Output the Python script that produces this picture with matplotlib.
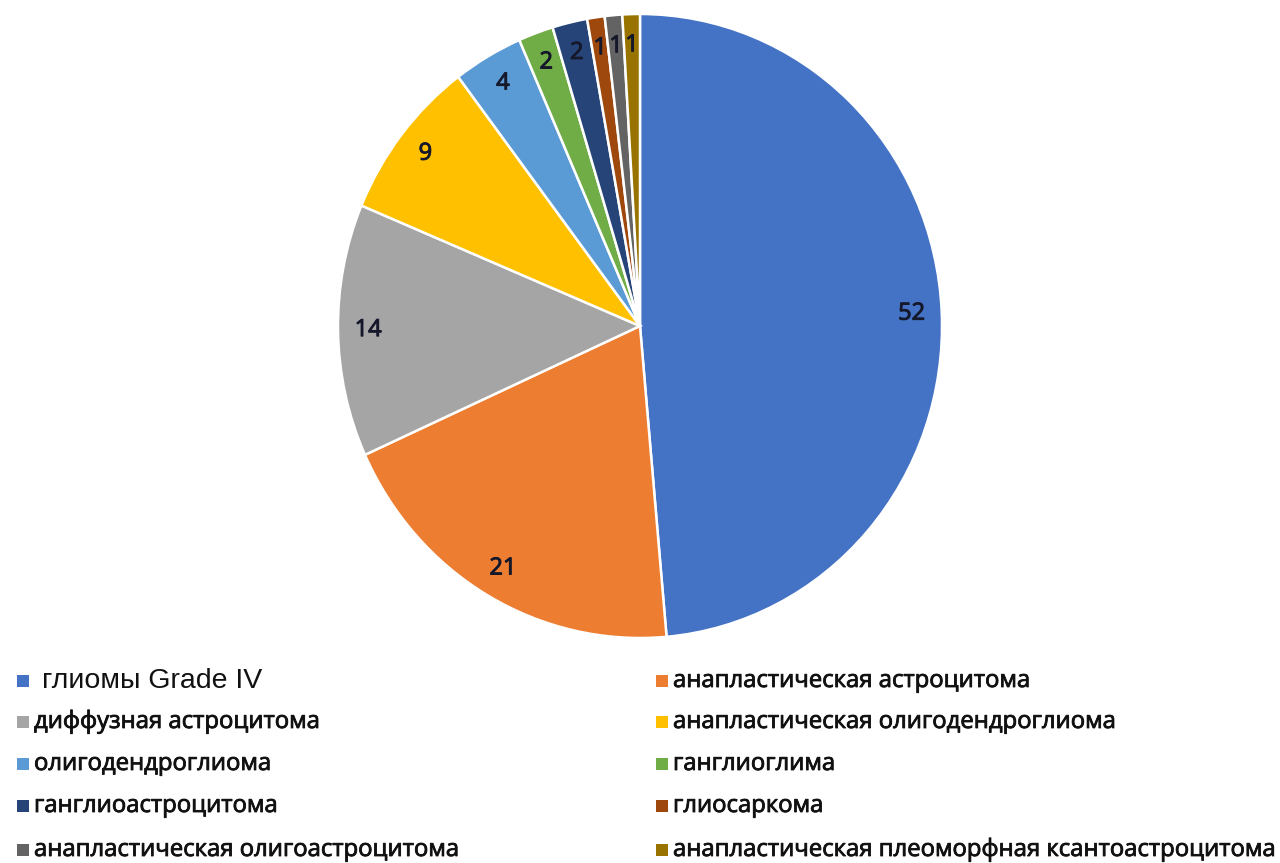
import matplotlib
matplotlib.use('Agg')
import matplotlib.pyplot as plt
import matplotlib.patheffects as pe
from matplotlib.patches import Rectangle

# Tumour types and case counts
categories = [
    'глиомы Grade IV',
    'анапластическая астроцитома',
    'диффузная астроцитома',
    'анапластическая олигодендроглиома',
    'олигодендроглиома',
    'ганглиоглима',
    'ганглиоастроцитома',
    'глиосаркома',
    'анапластическая олигоастроцитома',
    'анапластическая плеоморфная ксантоастроцитома',
]
counts = [52, 21, 14, 9, 4, 2, 2, 1, 1, 1]
colors = ['#4472C4', '#ED7D31', '#A5A5A5', '#FFC000', '#5B9BD5',
          '#70AD47', '#264478', '#9E480E', '#636363', '#997300']

total = sum(counts)
heavy = [pe.withStroke(linewidth=0.7, foreground='#15182a')]

fig = plt.figure(figsize=(12.8, 8.63), dpi=100)

# pie centred at (640, 326) px, 604 px wide and 624 px tall
cx, cy = 640, 326
rx, ry = 302, 312
ax = fig.add_axes([(cx - rx) / 1280, 1 - (cy + ry) / 863, 2 * rx / 1280, 2 * ry / 863])
wedges, texts, autotexts = ax.pie(
    counts, colors=colors, startangle=90, counterclock=False,
    autopct=lambda p: '%d' % round(p * total / 100), pctdistance=0.9,
    wedgeprops=dict(edgecolor='white', linewidth=1.8),
    textprops=dict(fontsize=17, color='#15182a', family='Open Sans'))
for t in autotexts:
    t.set_path_effects(heavy)
ax.set_xlim(-1, 1)
ax.set_ylim(-1, 1)
ax.set_aspect('auto')
ax.axis('off')

# legend: two columns, drawn as squares + text in figure coords
col_x = [17, 656]
row_y = [681, 722, 764, 806, 850]
for i, (name, c) in enumerate(zip(categories, colors)):
    x = col_x[i % 2]
    y = row_y[i // 2]
    fig.patches.append(Rectangle((x / 1280, 1 - (y + 6) / 863), 12 / 1280, 12 / 863,
                                 transform=fig.transFigure, facecolor=c, edgecolor='none'))
    if i == 0:
        fig.text((x + 25) / 1280, 1 - y / 863, name, fontsize=20.5,
                 family='Liberation Sans', va='center', color='#111111')
    else:
        t = fig.text((x + 17) / 1280, 1 - y / 863, name, fontsize=17.2,
                     family='Open Sans', va='center', color='#111111')
        t.set_path_effects([pe.withStroke(linewidth=0.6, foreground='#111111')])

fig.savefig('out.png', dpi=100, facecolor='white')
